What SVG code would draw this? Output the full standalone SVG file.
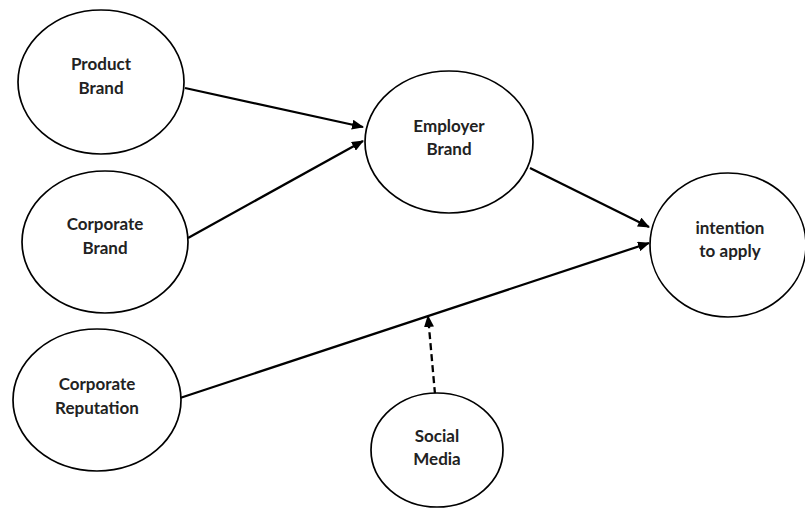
<svg xmlns="http://www.w3.org/2000/svg" width="805" height="508" viewBox="0 0 805 508">
  <style>
    .node ellipse { fill: #ffffff; stroke: #000000; stroke-width: 1.7; }
    .node text { font-family: Lato, "Open Sans", "Liberation Sans", sans-serif; font-weight: bold; font-size: 17px; fill: #222222; text-anchor: middle; dominant-baseline: central; }
    .edge { stroke: #000000; stroke-width: 2.3; fill: none; }
    .dashed { stroke-dasharray: 7 4; }
  </style>
  <defs>
    <marker id="arrow" viewBox="0 0 12 10" refX="11" refY="5" markerWidth="12" markerHeight="10" markerUnits="userSpaceOnUse" orient="auto">
      <path d="M0,0 L12,5 L0,10 z" fill="#000000"/>
    </marker>
  </defs>

  <rect x="0" y="0" width="805" height="508" fill="#ffffff"/>

  <g id="connectors">
    <line class="edge" x1="185" y1="88" x2="363" y2="127" marker-end="url(#arrow)"/>
    <line class="edge" x1="188" y1="238" x2="363" y2="141" marker-end="url(#arrow)"/>
    <line class="edge" x1="530" y1="168" x2="649" y2="227" marker-end="url(#arrow)"/>
    <line class="edge" x1="180" y1="398" x2="649" y2="243" marker-end="url(#arrow)"/>
    <line class="edge dashed" x1="435" y1="394" x2="428" y2="316" marker-end="url(#arrow)"/>
  </g>

  <g id="product-brand" class="node">
    <ellipse cx="101" cy="82" rx="83" ry="72"/>
    <text x="101" y="63">Product</text>
    <text x="101" y="87">Brand</text>
  </g>

  <g id="corporate-brand" class="node">
    <ellipse cx="105" cy="242" rx="83" ry="71"/>
    <text x="105" y="223">Corporate</text>
    <text x="105" y="247">Brand</text>
  </g>

  <g id="corporate-reputation" class="node">
    <ellipse cx="97" cy="400" rx="84" ry="71"/>
    <text x="97" y="383">Corporate</text>
    <text x="97" y="407">Reputation</text>
  </g>

  <g id="employer-brand" class="node">
    <ellipse cx="449" cy="142" rx="84" ry="71"/>
    <text x="449" y="125">Employer</text>
    <text x="449" y="148">Brand</text>
  </g>

  <g id="intention-to-apply" class="node">
    <ellipse cx="728" cy="245" rx="78" ry="72"/>
    <text x="730" y="227">intention</text>
    <text x="730" y="250">to apply</text>
  </g>

  <g id="social-media" class="node">
    <ellipse cx="437" cy="450" rx="66" ry="57"/>
    <text x="437" y="435">Social</text>
    <text x="437" y="458">Media</text>
  </g>
</svg>
